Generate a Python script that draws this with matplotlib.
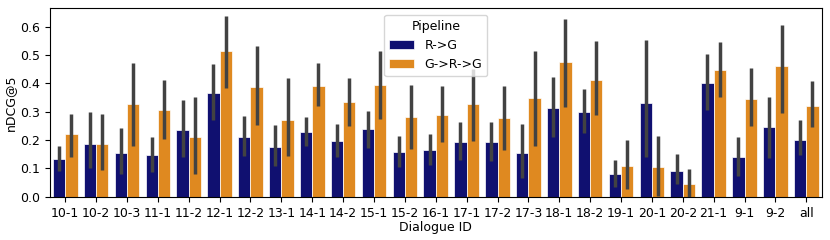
import numpy as np
import matplotlib
matplotlib.use('Agg')
import matplotlib.pyplot as plt
from matplotlib.colors import to_rgb
import colorsys

dialogues = ['10-1', '10-2', '10-3', '11-1', '11-2', '12-1', '12-2', '13-1', '14-1', '14-2',
             '15-1', '15-2', '16-1', '17-1', '17-2', '17-3', '18-1', '18-2', '19-1', '20-1',
             '20-2', '21-1', '9-1', '9-2', 'all']
pipelines = ['R->G', 'G->R->G']

rg_mean = [0.133, 0.188, 0.155, 0.147, 0.235, 0.367, 0.212, 0.175, 0.229, 0.197,
           0.238, 0.158, 0.166, 0.193, 0.192, 0.153, 0.312, 0.300, 0.079, 0.330,
           0.092, 0.401, 0.139, 0.246, 0.201]
rg_lo = [0.092, 0.102, 0.079, 0.086, 0.139, 0.271, 0.144, 0.108, 0.180, 0.141,
         0.174, 0.106, 0.113, 0.130, 0.126, 0.067, 0.212, 0.224, 0.034, 0.141,
         0.045, 0.306, 0.074, 0.138, 0.148]
rg_hi = [0.179, 0.300, 0.244, 0.211, 0.341, 0.467, 0.285, 0.253, 0.282, 0.257,
         0.304, 0.214, 0.221, 0.263, 0.265, 0.258, 0.424, 0.379, 0.130, 0.553,
         0.151, 0.503, 0.212, 0.352, 0.271]

grg_mean = [0.220, 0.188, 0.328, 0.306, 0.210, 0.514, 0.386, 0.271, 0.392, 0.335,
            0.395, 0.281, 0.288, 0.327, 0.279, 0.349, 0.475, 0.412, 0.109, 0.104,
            0.046, 0.447, 0.346, 0.462, 0.319]
grg_lo = [0.141, 0.094, 0.180, 0.203, 0.080, 0.383, 0.253, 0.145, 0.320, 0.251,
          0.274, 0.168, 0.194, 0.196, 0.165, 0.180, 0.318, 0.288, 0.026, 0.002,
          0.000, 0.353, 0.250, 0.295, 0.245]
grg_hi = [0.294, 0.292, 0.474, 0.412, 0.351, 0.639, 0.533, 0.418, 0.474, 0.418,
          0.514, 0.393, 0.390, 0.450, 0.391, 0.514, 0.627, 0.551, 0.200, 0.214,
          0.098, 0.545, 0.453, 0.606, 0.410]


def desat(c, prop=0.75):
    h, l, s = colorsys.rgb_to_hls(*to_rgb(c))
    return colorsys.hls_to_rgb(h, l, s * prop)


plt.rcParams['font.size'] = 9

colors = [desat('navy'), desat('darkorange')]
series = [(rg_mean, rg_lo, rg_hi), (grg_mean, grg_lo, grg_hi)]

fig = plt.figure(figsize=(8.3, 2.4), dpi=100)
ax = fig.add_axes([0.060, 0.18, 0.930, 0.785])

x = np.arange(len(dialogues))
w = 0.4
for i, (m, lo, hi) in enumerate(series):
    xs = x - 0.2 + i * w
    ax.bar(xs, m, width=w, color=colors[i], edgecolor='white', linewidth=0.5,
           label=pipelines[i], zorder=2)
    ax.vlines(xs, lo, hi, color='#424242', linewidth=2.5, zorder=3)

ax.set_xlim(-0.5, len(dialogues) - 0.5)
ax.set_ylim(0, 0.665)
ax.set_xticks(x)
ax.set_xticklabels(dialogues)
ax.set_yticks(np.arange(0, 0.61, 0.1))
ax.set_xlabel('Dialogue ID', labelpad=1)
ax.set_ylabel('nDCG@5', labelpad=2)
ax.legend(title='Pipeline', loc='upper center')

fig.savefig('out.png', dpi=100)
